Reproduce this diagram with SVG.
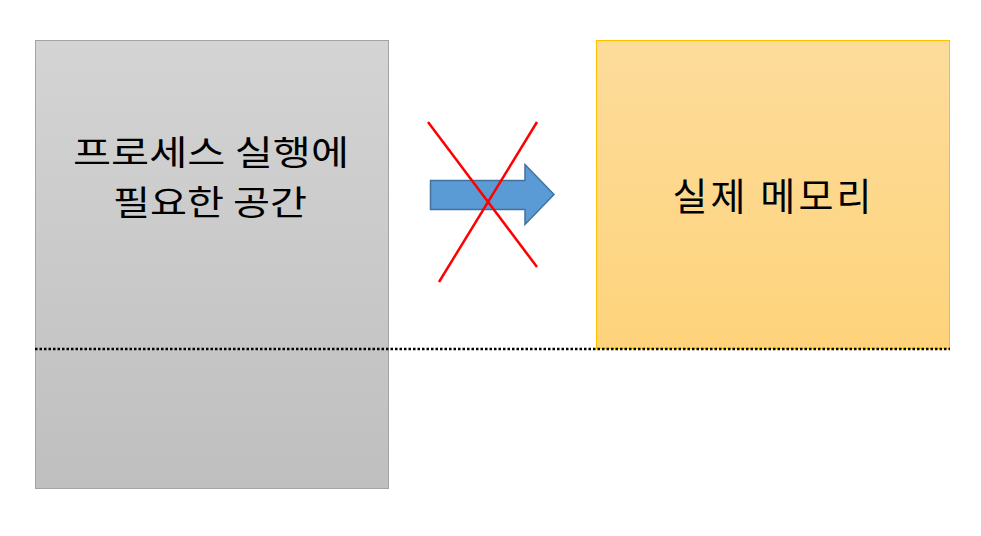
<svg xmlns="http://www.w3.org/2000/svg" width="981" height="536" viewBox="0 0 981 536">
<style>
.lbl{font-family:"Noto Sans CJK KR","Noto Sans",sans-serif;font-size:38px;fill:#000;text-anchor:middle}
.lbl2{font-size:34px}
</style>
<defs>
<linearGradient id="gGray" x1="0" y1="0" x2="0" y2="1"><stop offset="0" stop-color="#d4d4d4"/><stop offset="1" stop-color="#bfbfbf"/></linearGradient>
<linearGradient id="gOrange" x1="0" y1="0" x2="0" y2="1"><stop offset="0" stop-color="#fddc9b"/><stop offset="1" stop-color="#fed37b"/></linearGradient>
</defs>
<rect width="981" height="536" fill="#fff"/>
<g id="process">
<rect x="35.5" y="40.5" width="353" height="448" fill="url(#gGray)" stroke="#a3a3a3" stroke-width="1"/>
<text class="lbl lbl2"><tspan x="211" y="165" textLength="276" lengthAdjust="spacingAndGlyphs">프로세스 실행에</tspan><tspan x="210" y="215" textLength="194" lengthAdjust="spacingAndGlyphs">필요한 공간</tspan></text>
</g>
<g id="memory">
<rect x="596.5" y="40.5" width="353" height="308" fill="url(#gOrange)" stroke="#ffc000" stroke-width="1"/>
<text class="lbl" x="772" y="210" textLength="199" lengthAdjust="spacing">실제 메모리</text>
</g>
<g id="connectors">
<path d="M430.5,180.5 H525 V164.5 L554,194.5 L525,224.5 V209.5 H430.5 Z" fill="#5b9bd5" stroke="#41719c" stroke-width="1.5"/>
<line x1="428" y1="122" x2="537" y2="267" stroke="#ff0000" stroke-width="2.5"/>
<line x1="537" y1="122" x2="439" y2="282" stroke="#ff0000" stroke-width="2.5"/>
<line x1="35" y1="349" x2="950" y2="349" stroke="#000" stroke-width="2.5" stroke-dasharray="2.5 2"/>
</g>
</svg>
